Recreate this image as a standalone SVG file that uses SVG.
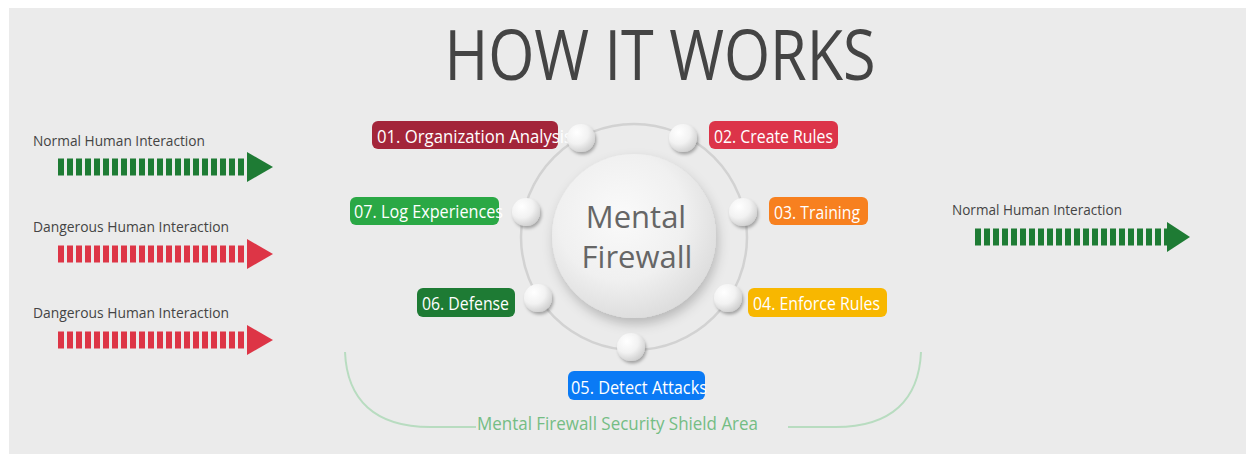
<svg xmlns="http://www.w3.org/2000/svg" width="1254" height="455" viewBox="0 0 1254 455">
<defs>
<radialGradient id="bigBall" cx="0.42" cy="0.38" r="0.65">
<stop offset="0" stop-color="#fafafa"/>
<stop offset="0.6" stop-color="#f0f0f0"/>
<stop offset="1" stop-color="#dcdcdc"/>
</radialGradient>
<radialGradient id="smallBall" cx="0.35" cy="0.3" r="0.75">
<stop offset="0" stop-color="#ffffff"/>
<stop offset="0.55" stop-color="#f2f2f2"/>
<stop offset="1" stop-color="#cfcfcf"/>
</radialGradient>
<filter id="bigShadow" x="-30%" y="-30%" width="160%" height="170%">
<feDropShadow dx="2" dy="6" stdDeviation="6" flood-color="#000" flood-opacity="0.22"/>
</filter>
<filter id="smallShadow" x="-50%" y="-50%" width="200%" height="200%">
<feDropShadow dx="1.5" dy="2.5" stdDeviation="1.6" flood-color="#000" flood-opacity="0.3"/>
</filter>
<style>
.lbl{font-family:"Open Sans","Noto Sans",sans-serif;font-size:19px;fill:#ffffff}
.side{font-family:"Open Sans","Noto Sans",sans-serif;font-size:15px;fill:#444444}
.bars{stroke-dasharray:6 3;stroke-width:17;fill:none}
.g{stroke:#1e7b34}
.r{stroke:#dd3546}
.gf{fill:#1e7b34}
.rf{fill:#dd3546}
.ball{fill:url(#smallBall);filter:url(#smallShadow)}
</style>
</defs>
<rect x="0" y="0" width="1254" height="455" fill="#ffffff"/>
<rect x="9" y="8" width="1237" height="446" fill="#ebebeb"/>

<g id="title">
<text x="660" y="80" text-anchor="middle" font-family="'Open Sans','Noto Sans',sans-serif" font-weight="400" font-size="70" fill="#444444" textLength="431" lengthAdjust="spacingAndGlyphs">HOW IT WORKS</text>
</g>

<g id="arrows">
<g id="arrow-left-1">
<text class="side" x="33" y="146" textLength="172" lengthAdjust="spacingAndGlyphs">Normal Human Interaction</text>
<line class="bars g" x1="58" y1="167" x2="247" y2="167"/>
<polygon class="gf" points="247,152 273,167 247,182"/>
</g>
<g id="arrow-left-2">
<text class="side" x="33" y="232" textLength="196" lengthAdjust="spacingAndGlyphs">Dangerous Human Interaction</text>
<line class="bars r" x1="58" y1="254" x2="247" y2="254"/>
<polygon class="rf" points="247,239 273,254 247,269"/>
</g>
<g id="arrow-left-3">
<text class="side" x="33" y="318" textLength="196" lengthAdjust="spacingAndGlyphs">Dangerous Human Interaction</text>
<line class="bars r" x1="58" y1="340" x2="247" y2="340"/>
<polygon class="rf" points="247,325 273,340 247,355"/>
</g>
<g id="arrow-right">
<text class="side" x="952" y="215" textLength="170" lengthAdjust="spacingAndGlyphs">Normal Human Interaction</text>
<line class="bars g" x1="975" y1="237" x2="1167" y2="237"/>
<polygon class="gf" points="1167,222 1190,237 1167,252"/>
</g>
</g>

<g id="connectors">
<circle cx="634" cy="237" r="113" fill="none" stroke="#d2d2d2" stroke-width="2.5"/>
</g>

<g id="label-01">
<rect x="372" y="121" width="186" height="28" rx="6" fill="#a3253a"/>
<text class="lbl" x="377" y="143" textLength="195" lengthAdjust="spacingAndGlyphs">01. Organization Analysis</text>
</g>
<g id="label-02">
<rect x="709" y="121" width="129" height="28" rx="6" fill="#dc3449"/>
<text class="lbl" x="714" y="143" textLength="119" lengthAdjust="spacingAndGlyphs">02. Create Rules</text>
</g>
<g id="label-03">
<rect x="769" y="197" width="99" height="28" rx="6" fill="#f7801f"/>
<text class="lbl" x="774" y="219" textLength="86" lengthAdjust="spacingAndGlyphs">03. Training</text>
</g>
<g id="label-04">
<rect x="748" y="288" width="139" height="29" rx="6" fill="#f8b700"/>
<text class="lbl" x="753" y="310" textLength="127" lengthAdjust="spacingAndGlyphs">04. Enforce Rules</text>
</g>
<g id="label-05">
<rect x="568" y="371" width="137" height="29" rx="6" fill="#0a7af5"/>
<text class="lbl" x="571" y="394" textLength="136" lengthAdjust="spacingAndGlyphs">05. Detect Attacks</text>
</g>
<g id="label-06">
<rect x="417" y="288" width="98" height="29" rx="6" fill="#1e7b34"/>
<text class="lbl" x="422" y="310" textLength="87" lengthAdjust="spacingAndGlyphs">06. Defense</text>
</g>
<g id="label-07">
<rect x="350" y="197" width="149" height="28" rx="6" fill="#2aa845"/>
<text class="lbl" x="354" y="218" textLength="149" lengthAdjust="spacingAndGlyphs">07. Log Experiences</text>
</g>

<g id="balls">
<circle class="ball" cx="581" cy="138" r="14"/>
<circle class="ball" cx="683" cy="138" r="14"/>
<circle class="ball" cx="743" cy="212" r="14"/>
<circle class="ball" cx="728" cy="298" r="14"/>
<circle class="ball" cx="631" cy="347" r="14"/>
<circle class="ball" cx="538" cy="298" r="14"/>
<circle class="ball" cx="526" cy="212" r="14"/>
</g>

<g id="center">
<circle cx="634" cy="236" r="82" fill="url(#bigBall)" filter="url(#bigShadow)"/>
<text x="636" y="228" text-anchor="middle" font-family="'Open Sans','Noto Sans',sans-serif" font-size="31" fill="#666666">Mental</text>
<text x="637" y="268" text-anchor="middle" font-family="'Open Sans','Noto Sans',sans-serif" font-size="31" fill="#666666">Firewall</text>
</g>

<g id="shield">
<path d="M345,352 C347,400 375,427 430,427 H476" fill="none" stroke="#b8dcc0" stroke-width="2"/>
<path d="M921,352 C919,400 891,427 836,427 H788" fill="none" stroke="#b8dcc0" stroke-width="2"/>
<text x="477" y="430" font-family="'Open Sans','Noto Sans',sans-serif" font-size="19" fill="#74bd84" textLength="281" lengthAdjust="spacingAndGlyphs">Mental Firewall Security Shield Area</text>
</g>
</svg>
